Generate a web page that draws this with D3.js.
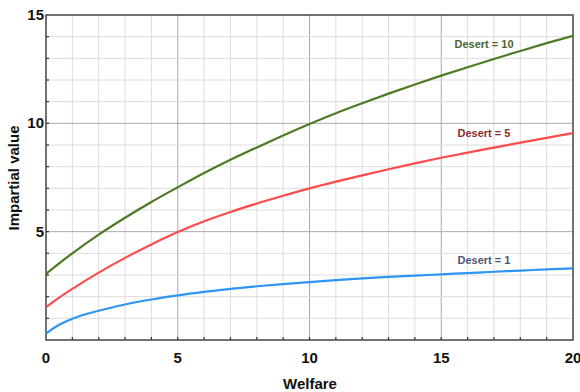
<!DOCTYPE html>
<html><head><meta charset="utf-8">
<script src="https://cdn.jsdelivr.net/npm/d3@7"></script>
<style>body{margin:0;background:#fff}svg{display:block}</style>
</head><body><svg id="c" width="580" height="392"></svg>
<script>
const welfare = [0,0.5,1,2,3,4,5,6,7,8,9,10,11,12,13,14,15,16,17,18,19,20];
const desert10 = [3.05,3.54,4.0,4.86,5.64,6.37,7.05,7.71,8.32,8.89,9.44,9.97,10.47,10.93,11.37,11.79,12.2,12.59,12.97,13.34,13.7,14.04];
const desert5  = [1.52,1.96,2.36,3.11,3.79,4.41,4.98,5.48,5.91,6.30,6.66,7.0,7.31,7.6,7.88,8.15,8.41,8.65,8.88,9.11,9.33,9.55];
const desert1  = [0.3,0.70,0.98,1.35,1.64,1.87,2.06,2.22,2.36,2.48,2.58,2.67,2.76,2.84,2.91,2.97,3.03,3.09,3.15,3.2,3.26,3.31];
const xTicks = [0,5,10,15,20];
const yTicks = [5,10,15];
const seriesNames = ["Desert = 10","Desert = 5","Desert = 1"];

const svg = d3.select("#c");
const m = {l:46, t:15, r:573, b:340};
const x = d3.scaleLinear().domain([0,20]).range([m.l, m.r]);
const y = d3.scaleLinear().domain([0,15]).range([m.b, m.t]);

const g = svg.append("g");
g.selectAll(".vx").data(d3.range(1,20)).enter().append("line")
  .attr("x1",d=>x(d)).attr("x2",d=>x(d)).attr("y1",m.t).attr("y2",m.b)
  .attr("stroke",d=>d%5===0?"#aaaaaa":"#dcdcdc").attr("stroke-width",1);
g.selectAll(".hy").data(d3.range(1,15)).enter().append("line")
  .attr("y1",d=>y(d)).attr("y2",d=>y(d)).attr("x1",m.l).attr("x2",m.r)
  .attr("stroke",d=>d%5===0?"#aaaaaa":"#dcdcdc").attr("stroke-width",1);

g.selectAll(".tx").data(d3.range(1,20)).enter().append("line")
  .attr("x1",d=>x(d)).attr("x2",d=>x(d)).attr("y1",m.b).attr("y2",m.b-3)
  .attr("stroke","#333").attr("stroke-width",1.2);
g.selectAll(".ty").data(d3.range(1,15)).enter().append("line")
  .attr("y1",d=>y(d)).attr("y2",d=>y(d)).attr("x1",m.l).attr("x2",m.l+3)
  .attr("stroke","#333").attr("stroke-width",1.2);

g.append("rect").attr("x",m.l).attr("y",m.t).attr("width",m.r-m.l).attr("height",m.b-m.t)
  .attr("fill","none").attr("stroke","#444").attr("stroke-width",1.5);

const font = "'Liberation Sans', Arial, sans-serif";
svg.selectAll(".xl").data(xTicks).enter().append("text")
  .attr("x",d=>x(d)).attr("y",362.5).attr("text-anchor","middle")
  .attr("font-family",font).attr("font-weight","bold").attr("font-size",15).attr("fill","#111")
  .text(d=>d);
svg.selectAll(".yl").data(yTicks).enter().append("text")
  .attr("x",m.l-2).attr("y",d=>y(d)+5).attr("text-anchor","end")
  .attr("font-family",font).attr("font-weight","bold").attr("font-size",15).attr("fill","#111")
  .text(d=>d);

svg.append("text").attr("x",310).attr("y",388.5).attr("text-anchor","middle")
  .attr("font-family",font).attr("font-weight","bold").attr("font-size",15).attr("fill","#111")
  .text("Welfare");
svg.append("text").attr("transform","translate(19,178) rotate(-90)").attr("text-anchor","middle")
  .attr("font-family",font).attr("font-weight","bold").attr("font-size",15).attr("fill","#111")
  .text("Impartial value");

const line = d3.line().x((d,i)=>x(welfare[i])).y(d=>y(d)).curve(d3.curveMonotoneX);
const data = [desert10, desert5, desert1];
const colors = ["#4f7a25","#ff4b4b","#2f95f5"];
const labelColors = ["#4a6634","#8b2c30","#4b5775"];
const labelPos = [[484,48],[484,137],[484,264]];
svg.append("clipPath").attr("id","cp").append("rect")
  .attr("x",m.l).attr("y",m.t).attr("width",m.r-m.l).attr("height",m.b-m.t);
svg.append("g").attr("clip-path","url(#cp)").selectAll("path").data(data).enter().append("path")
  .attr("d",line).attr("fill","none").attr("stroke",(d,i)=>colors[i]).attr("stroke-width",2.2);

svg.selectAll(".sl").data(seriesNames).enter().append("text")
  .attr("x",(d,i)=>labelPos[i][0]).attr("y",(d,i)=>labelPos[i][1]).attr("text-anchor","middle")
  .attr("font-family",font).attr("font-weight","bold").attr("font-size",11)
  .attr("fill",(d,i)=>labelColors[i]).text(d=>d);
</script></body></html>
